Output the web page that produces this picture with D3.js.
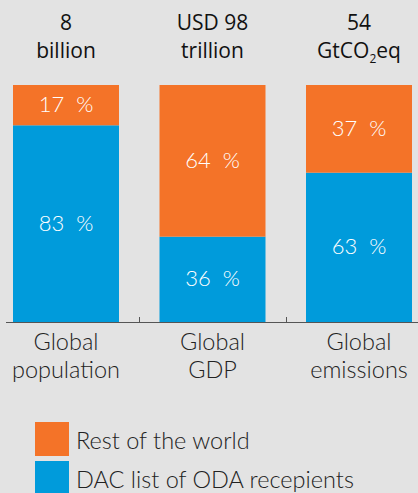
<!DOCTYPE html>
<html>
<head>
<meta charset="utf-8">
<script src="https://cdn.jsdelivr.net/npm/d3@7"></script>
<style>
body{margin:0;background:#e3e3e3;}
svg{display:block;font-family:"Lato","Open Sans",sans-serif;}
</style>
</head>
<body>
<script>
// categories and shares (in %)
var categories = ["Global population", "Global GDP", "Global emissions"];
var catLines = [["Global", "population"], ["Global", "GDP"], ["Global", "emissions"]];
var totals = [["8", "billion"], ["USD 98", "trillion"], ["54", "GtCO2eq"]];
var dacShare = [83, 36, 63];
var restShare = [17, 64, 37];
var seriesNames = ["Rest of the world", "DAC list of ODA recepients"];
var colors = {rest: "#f47328", dac: "#009bdb"};

var width = 418, height = 493;
var svg = d3.select("body").append("svg").attr("width", width).attr("height", height);

svg.append("rect").attr("width", width).attr("height", height).attr("fill", "#e3e3e3");

var x = d3.scaleBand().domain(categories).range([13, 412]).paddingInner(0.2765).paddingOuter(0);
var y = d3.scaleLinear().domain([0, 100]).range([322, 85]);

var data = categories.map(function(c, i){
	return {cat: c, dac: dacShare[i], rest: restShare[i]};
});

var g = svg.selectAll("g.bar").data(data).enter().append("g").attr("class", "bar");

// blue part (bottom)
g.append("rect")
	.attr("x", function(d){return x(d.cat);})
	.attr("width", x.bandwidth())
	.attr("y", function(d){return y(d.dac);})
	.attr("height", function(d){return y(0) - y(d.dac);})
	.attr("fill", colors.dac);

// orange part (top)
g.append("rect")
	.attr("x", function(d){return x(d.cat);})
	.attr("width", x.bandwidth())
	.attr("y", function(d){return y(d.dac + d.rest);})
	.attr("height", function(d){return y(d.dac) - y(d.dac + d.rest);})
	.attr("fill", colors.rest);

// percent labels
g.append("text")
	.attr("x", function(d){return x(d.cat) + x.bandwidth()/2;})
	.attr("y", function(d){return (y(d.dac) + y(0))/2 + 7;})
	.attr("text-anchor", "middle").attr("fill", "#fff").attr("font-size", 22).attr("font-weight", 300)
	.style("white-space", "pre")
	.text(function(d){return d.dac + "  %";});

g.append("text")
	.attr("x", function(d){return x(d.cat) + x.bandwidth()/2;})
	.attr("y", function(d){return (y(d.dac) + y(100))/2 + 7;})
	.attr("text-anchor", "middle").attr("fill", "#fff").attr("font-size", 22).attr("font-weight", 300)
	.style("white-space", "pre")
	.text(function(d){return d.rest + "  %";});

// totals above bars
g.each(function(d, i){
	var cx = x(d.cat) + x.bandwidth()/2;
	var t = d3.select(this).append("text")
		.attr("text-anchor", "middle").attr("fill", "#111").attr("font-size", 21)
		.style("font-family", "'Open Sans', sans-serif");
	t.append("tspan").attr("x", cx).attr("y", 30).text(totals[i][0]);
	var second = t.append("tspan").attr("x", cx).attr("y", 58);
	if (totals[i][1].indexOf("CO2") >= 0) {
		second.text("GtCO");
		t.append("tspan").attr("font-size", 12).attr("dy", 5).text("2");
		t.append("tspan").attr("dy", -5).text("eq");
	} else {
		second.text(totals[i][1]);
	}
});

// axis baseline and ticks between bars
svg.append("line").attr("x1", 6).attr("x2", width).attr("y1", y(0) + 0.5).attr("y2", y(0) + 0.5)
	.attr("stroke", "#555").attr("stroke-width", 1);
for (var i = 0; i < categories.length - 1; i++) {
	var tx = Math.round((x(categories[i]) + x.bandwidth() + x(categories[i+1])) / 2) + 0.5;
	svg.append("line").attr("x1", tx).attr("x2", tx).attr("y1", y(0) - 5).attr("y2", y(0))
		.attr("stroke", "#555");
}

// category labels
g.each(function(d, i){
	var t = d3.select(this).append("text")
		.attr("text-anchor", "middle").attr("fill", "#222").attr("font-size", 23.5).attr("font-weight", 300);
	catLines[i].forEach(function(l, j){
		t.append("tspan").attr("x", x(d.cat) + x.bandwidth()/2).attr("y", 350 + j*28).text(l);
	});
});

// legend
var legend = svg.selectAll("g.legend").data(seriesNames).enter().append("g")
	.attr("transform", function(d, i){return "translate(35," + (422 + i*39) + ")";});
legend.append("rect").attr("width", 34).attr("height", 34)
	.attr("fill", function(d, i){return i == 0 ? colors.rest : colors.dac;});
legend.append("text").attr("x", 41).attr("y", 27).attr("font-size", 23.5).attr("font-weight", 300)
	.attr("fill", "#222").text(function(d){return d;});
</script>
</body>
</html>
